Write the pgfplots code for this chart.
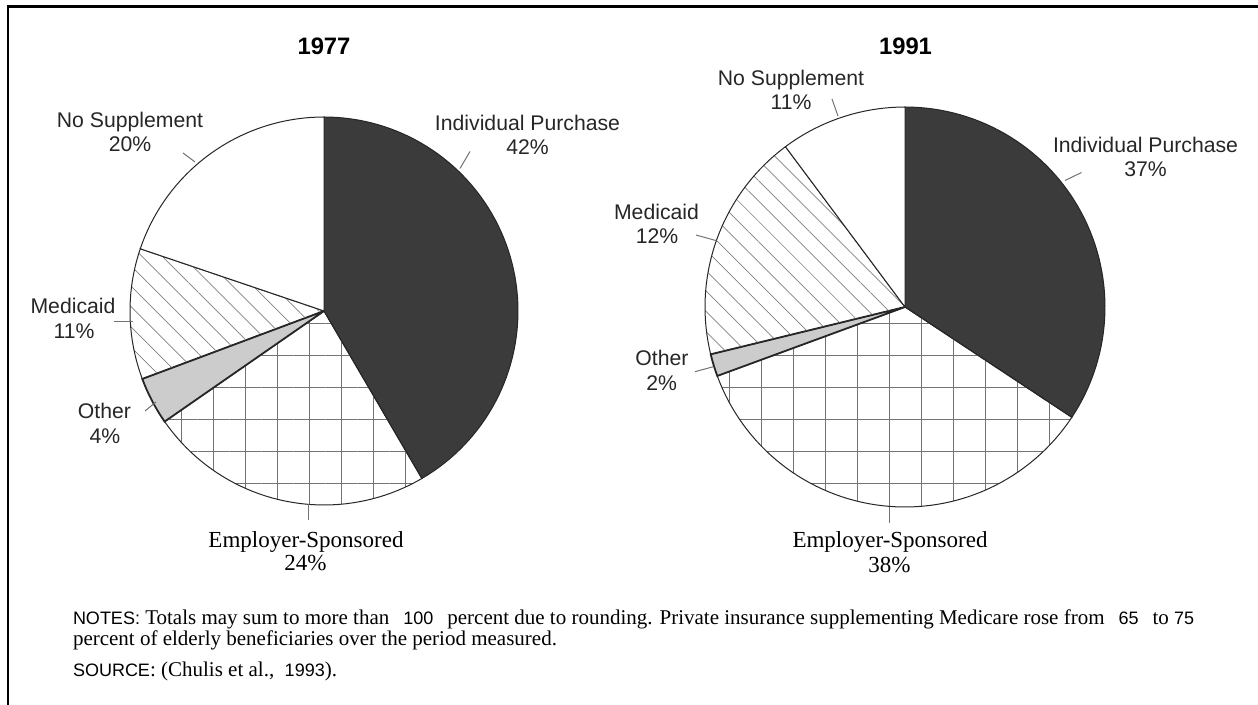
\documentclass[border=0pt]{standalone}
\usepackage{pgfplots}
\pgfplotsset{compat=1.18}
\usetikzlibrary{patterns.meta}
\usepackage{fontspec}
\setmainfont{Liberation Serif}
\newfontfamily\arial{Liberation Sans}

% \slice{total}{value}{style}: next slice clockwise from 12 o'clock,
% outline points every 2 degrees, in polar data coordinates (angle, radius)
\newcommand\slice[3]{%
  \pgfmathsetmacro\sa{90-\cum/(#1)*360}%
  \pgfmathsetmacro\ea{90-(\cum+#2)/(#1)*360}%
  \pgfmathtruncatemacro\nst{max(2,ceil((\sa-\ea)/2))}%
  \xdef\pts{(0,0)}%
  \foreach \k in {0,...,\nst}{%
    \pgfmathsetmacro\ang{\sa-(\sa-\ea)*\k/\nst}%
    \xdef\pts{\pts (\ang,1)}}%
  \edef\doslice{\noexpand\addplot[#3, data cs=polar] coordinates {\pts (0,0)};}%
  \doslice
  \pgfmathsetmacro\newcum{\cum+#2}\xdef\cum{\newcum}}

\tikzset{
  ind/.style={draw=black!85, line width=0.5pt, fill=black!77},
  empA/.style={draw=black!85, line width=0.5pt, pattern={Hatch[angle=0, distance=16pt, line width=0.35pt, xshift=-5.35pt, yshift=-1.2pt]}, pattern color=black!55},
  empB/.style={draw=black!85, line width=0.5pt, pattern={Hatch[angle=0, distance=16pt, line width=0.35pt, xshift=-3.5pt, yshift=-1pt]}, pattern color=black!55},
  oth/.style={draw=black!85, line width=0.9pt, fill=black!20},
  med/.style={draw=black!85, line width=0.5pt, pattern={Lines[angle=-45, distance=7.2pt, line width=0.35pt]}, pattern color=black!50},
  nos/.style={draw=black!85, line width=0.5pt, fill=white},
  lab/.style={font=\arial\fontsize{10.6}{12}\selectfont, text=black!85, anchor=base, inner sep=0pt},
  ser/.style={font=\fontsize{11.5}{13}\selectfont, anchor=base, inner sep=0pt},
  note/.style={font=\fontsize{10.5}{12}\selectfont, anchor=base west, inner sep=0pt},
  lead/.style={draw=black!55, line width=0.5pt},
}
\newcommand\sans[1]{{\arial\fontsize{9}{11}\selectfont #1}}
\pgfplotsset{pie/.style={scale only axis, hide axis, clip=false,
  xmin=-1, xmax=1, ymin=-1, ymax=1, anchor=center}}

\begin{document}
\begin{tikzpicture}[x=0.5pt, y=-0.5pt]
\useasboundingbox (0,0) rectangle (1258,705);
\draw[line width=1.2pt] (8,705) -- (8,6.5) -- (1258,6.5);

% 1977: shares as labelled (sum 101); centre at pixel (324,311)
\begin{axis}[pie, width=194pt, height=194pt, at={(162pt,-155.5pt)}]
\xdef\cum{0}
\slice{101}{42}{ind}
\slice{101}{24}{empA}
\slice{101}{4}{oth}
\slice{101}{11}{med}
\slice{101}{20}{nos}
\end{axis}

% 1991: shares as drawn in the figure; centre at pixel (905,307)
\begin{axis}[pie, width=200pt, height=200pt, at={(452.5pt,-153.5pt)}]
\xdef\cum{0}
\slice{100}{34.3}{ind}
\slice{100}{35.1}{empB}
\slice{100}{1.8}{oth}
\slice{100}{18.6}{med}
\slice{100}{10.2}{nos}
\end{axis}

% titles
\node[anchor=base, inner sep=0pt, font=\arial\bfseries\fontsize{11.9}{14}\selectfont] at (324,55) {1977};
\node[anchor=base, inner sep=0pt, font=\arial\bfseries\fontsize{11.9}{14}\selectfont] at (905.5,55) {1991};

% 1977 labels
\node[lab] at (130,127.3) {No Supplement};
\node[lab] at (130,151.7) {20\%};
\draw[lead] (183,153) -- (195,162);
\node[lab] at (527.5,130.7) {Individual Purchase};
\node[lab] at (527.5,154.5) {42\%};
\draw[lead] (470,151.5) -- (460,168.5);
\node[lab] at (73,314) {Medicaid};
\node[lab] at (74,338.3) {11\%};
\draw[lead] (114,322) -- (133,322);
\node[lab] at (104.5,419) {Other};
\node[lab] at (105,443.3) {4\%};
\draw[lead] (145,411) -- (156,402);
\node[ser] at (306,547.3) {Employer-Sponsored};
\node[ser] at (305.5,570.7) {24\%};
\draw[lead] (308,504) -- (308,520);

% 1991 labels
\node[lab] at (791,86) {No Supplement};
\node[lab] at (791,110) {11\%};
\draw[lead] (832,99) -- (838,116);
\node[lab] at (1145.5,152.7) {Individual Purchase};
\node[lab] at (1145.5,176.7) {37\%};
\draw[lead] (1081.5,172.5) -- (1065,180.5);
\node[lab] at (656.5,219.3) {Medicaid};
\node[lab] at (657,243.3) {12\%};
\draw[lead] (696,235) -- (716.5,240.7);
\node[lab] at (662,366) {Other};
\node[lab] at (661.7,390.7) {2\%};
\draw[lead] (695,371.7) -- (713.3,366.7);
\node[ser] at (890,547.3) {Employer-Sponsored};
\node[ser] at (889.5,572.7) {38\%};
\draw[lead] (889,507) -- (889,523);

% notes
\node[note] at (72.6,624.3)
  {\sans{NOTES:} Totals may sum to more than\hspace{7pt}\sans{100}\hspace{7pt}percent due to rounding. Private insurance supplementing Medicare rose from\hspace{7pt}\sans{65}\hspace{7pt}to \sans{75}};
\node[note] at (72.6,645)
  {percent of elderly beneficiaries over the period measured.};
\node[note] at (72.6,676.7)
  {\sans{SOURCE}: (Chulis et al., \ \sans{1993}).};
\end{tikzpicture}
\end{document}
